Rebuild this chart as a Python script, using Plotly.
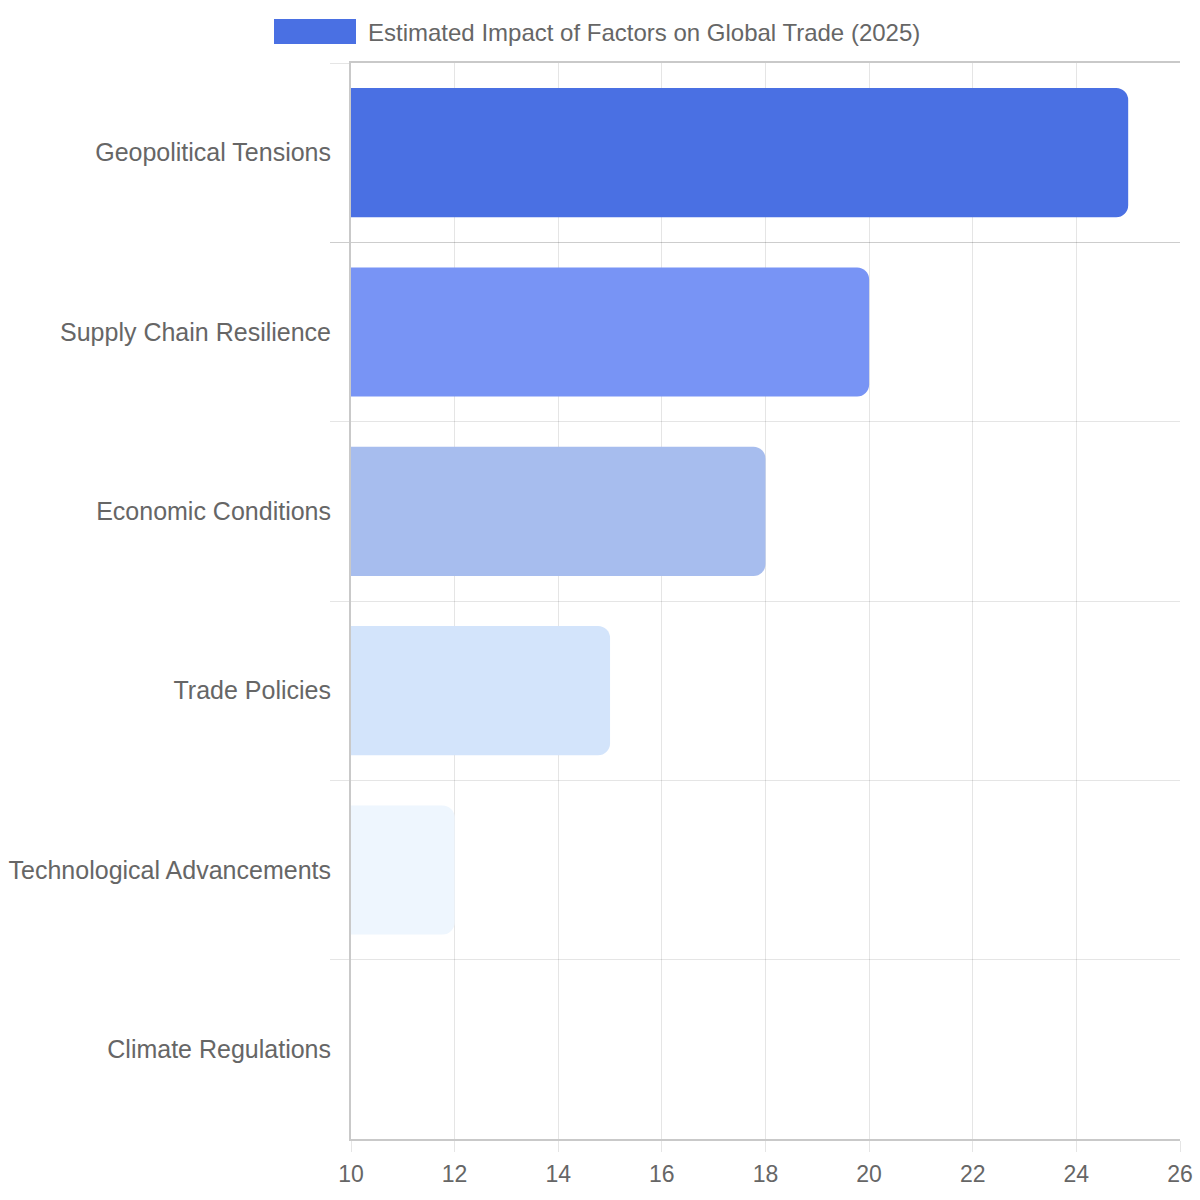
import plotly.graph_objects as go

categories = ["Geopolitical Tensions", "Supply Chain Resilience", "Economic Conditions",
              "Trade Policies", "Technological Advancements", "Climate Regulations"]
values = [25, 20, 18, 15, 12, 10]
colors = ["#4A70E3", "#7894F5", "#A7BDEE", "#D3E4FB", "#EEF6FE", "#FFFFFF"]
series_name = "Estimated Impact of Factors on Global Trade (2025)"
x_ticks = [10, 12, 14, 16, 18, 20, 22, 24, 26]

FONT = "Liberation Sans, Arial, sans-serif"
GRID = "rgba(0,0,0,0.1)"
AXIS = "#C9C9C9"

fig = go.Figure()
fig.add_trace(go.Bar(
    y=categories, x=values, orientation="h",
    marker=dict(color=colors, line=dict(width=0)),
    name=series_name, showlegend=False,
))

fig.update_layout(
    width=1200, height=1200,
    margin=dict(l=351, r=20, t=63, b=61),
    paper_bgcolor="white", plot_bgcolor="white",
    bargap=0.28, barcornerradius=12,
    font=dict(family=FONT, size=22, color="#666666"),
    xaxis=dict(
        range=[10, 26], tickvals=x_ticks, ticktext=[str(v) for v in x_ticks],
        showgrid=True, gridcolor=GRID, gridwidth=1, zeroline=False,
        ticks="outside", ticklen=11, tickcolor=GRID,
        showline=True, linecolor=AXIS, linewidth=2, mirror=True,
        tickfont=dict(size=23, color="#666666"), ticklabelstandoff=2,
        automargin=False,
    ),
    yaxis=dict(
        type="category", categoryorder="array", categoryarray=categories,
        autorange="reversed", tickson="boundaries",
        showgrid=True, gridcolor=GRID, gridwidth=1, zeroline=False,
        ticks="outside", ticklen=19, tickcolor=GRID,
        showline=True, linecolor=AXIS, linewidth=2,
        tickfont=dict(size=25, color="#666666"), ticklabelstandoff=13,
        automargin=False,
    ),
)

# Legend swatch + label (Chart.js-style legend)
W = 829.0
H = 1076.0
fig.add_shape(type="rect", xref="paper", yref="paper",
              x0=(274 - 351) / W, x1=(356 - 351) / W,
              y0=(1139 - 44) / H, y1=(1139 - 19) / H,
              fillcolor=colors[0], line=dict(width=0), layer="above")
fig.add_annotation(xref="paper", yref="paper", x=(366 - 351) / W, y=(1139 - 32) / H,
                   xanchor="left", yanchor="middle", showarrow=False,
                   text=series_name, font=dict(family=FONT, size=24, color="#666666"))

fig.write_html("out.html")
